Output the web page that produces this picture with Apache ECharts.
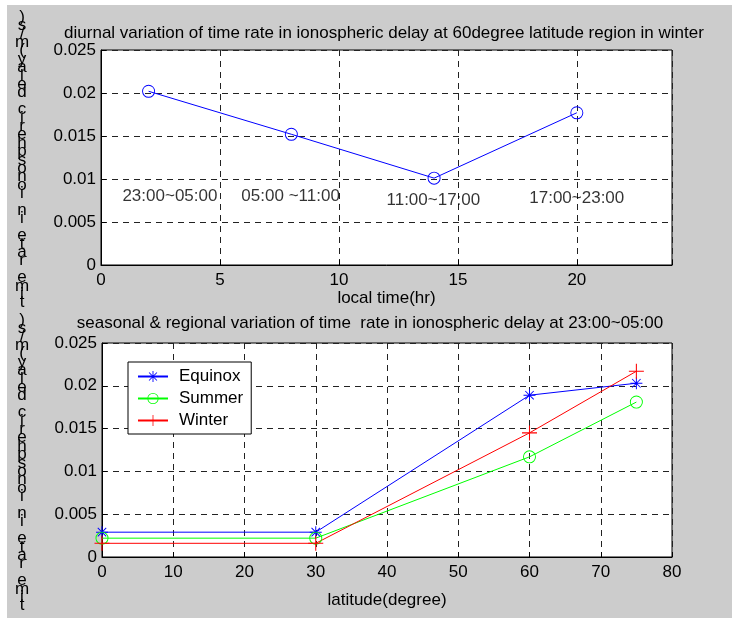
<!DOCTYPE html>
<html>
<head>
<meta charset="utf-8">
<script src="https://cdn.jsdelivr.net/npm/echarts@6/dist/echarts.min.js"></script>
<style>
html,body{margin:0;padding:0;background:#fff;}
#c{width:732px;height:618px;background:linear-gradient(#cccccc,#cccccc) 7px 5px / 725px 613px no-repeat, #ffffff;}
</style>
</head>
<body>
<div id="c"></div>
<script>
// ---- data ----
const topTitle = 'diurnal variation of time rate in ionospheric delay at 60degree latitude region in winter';
const bottomTitle = 'seasonal & regional variation of time  rate in ionospheric delay at 23:00~05:00';
const yLabelText = 'time rate in ionospheric delay(m/s)';
const topXName = 'local time(hr)';
const bottomXName = 'latitude(degree)';

const hours = [2, 8, 14, 20];
const winter60 = [0.0202, 0.0152, 0.0101, 0.0177];

const annoX = [0.9, 5.9, 12, 18];
const annoY = [0.0080, 0.0080, 0.0075, 0.0077];
const annoText = ['23:00~05:00', '05:00 ~11:00', '11:00~17:00', '17:00~23:00'];

const latitudes = [0, 30, 60, 75];
const equinox = [0.0029, 0.0029, 0.0189, 0.0203];
const summer = [0.0022, 0.0022, 0.0117, 0.0181];
const winter = [0.0016, 0.0016, 0.0145, 0.0217];

const FONT = '"Liberation Sans", Arial, sans-serif';
const FS = 17;
const starPath = 'path://M-0.8,-10L0.8,-10L0.8,10L-0.8,10Z M-10,-0.8L10,-0.8L10,0.8L-10,0.8Z M-7.6,-6.5L-6.5,-7.6L7.6,6.5L6.5,7.6Z M6.5,-7.6L7.6,-6.5L-6.5,7.6L-7.6,6.5Z';
const plusPath = 'path://M-0.7,-10L0.7,-10L0.7,10L-0.7,10Z M-10,-0.7L10,-0.7L10,0.7L-10,0.7Z';
const ringPath = 'path://M10,0A10,10,0,1,1,-10,0A10,10,0,1,1,10,0Z M8.6,0A8.6,8.6,0,1,0,-8.6,0A8.6,8.6,0,1,0,8.6,0Z';

const zip = (xs, ys) => xs.map((x, i) => [x, ys[i]]);
const reversedStack = yLabelText.split('').reverse().join('\n');

const gridLine = {show: true, lineStyle: {color: '#222', type: [6, 5], width: 1}};
const axisBase = {
  type: 'value',
  axisLine: {show: true, onZero: false, lineStyle: {color: '#000', width: 1}},
  axisTick: {show: true, inside: true, length: 5, lineStyle: {color: '#000'}},
  splitLine: gridLine
};
const labelStyle = {color: '#000', fontSize: FS, fontFamily: FONT};

const chart = echarts.init(document.getElementById('c'), null, {renderer: 'canvas'});
chart.setOption({
  backgroundColor: 'transparent',
  animation: false,
  textStyle: {fontFamily: FONT},
  grid: [
    {left: 101, top: 50, width: 571, height: 215, show: true, backgroundColor: '#fff', borderColor: '#000', borderWidth: 1},
    {left: 102, top: 343, width: 570, height: 214, show: true, backgroundColor: '#fff', borderColor: '#000', borderWidth: 1}
  ],
  xAxis: [
    Object.assign({}, axisBase, {gridIndex: 0, min: 0, max: 24, interval: 5,
      axisLabel: Object.assign({margin: 7, formatter: v => (v % 5 === 0 ? String(v) : '')}, labelStyle),
      name: topXName, nameLocation: 'middle', nameGap: 25,
      nameTextStyle: labelStyle}),
    Object.assign({}, axisBase, {gridIndex: 1, min: 0, max: 80, interval: 10,
      axisLabel: Object.assign({margin: 7}, labelStyle),
      name: bottomXName, nameLocation: 'middle', nameGap: 35,
      nameTextStyle: labelStyle})
  ],
  yAxis: [
    Object.assign({}, axisBase, {gridIndex: 0, min: 0, max: 0.025, interval: 0.005,
      axisLabel: Object.assign({margin: 5, formatter: v => String(+v.toFixed(3))}, labelStyle)}),
    Object.assign({}, axisBase, {gridIndex: 1, min: 0, max: 0.025, interval: 0.005,
      axisLabel: Object.assign({margin: 5, formatter: v => String(+v.toFixed(3))}, labelStyle)})
  ],
  legend: {
    data: ['Equinox', 'Summer', 'Winter'],
    orient: 'vertical',
    left: 128, top: 362,
    padding: [6, 8, 5, 9],
    itemWidth: 30, itemHeight: 14, itemGap: 5,
    backgroundColor: '#fff', borderColor: '#000', borderWidth: 1,
    textStyle: {color: '#000', fontSize: FS, fontFamily: FONT, padding: [0, 0, 0, 6]}
  },
  series: [
    {type: 'line', xAxisIndex: 0, yAxisIndex: 0, data: zip(hours, winter60),
      symbol: ringPath, symbolSize: 13, clip: false,
      lineStyle: {color: '#0000ff', width: 1}, itemStyle: {color: '#0000ff'}},
    {type: 'scatter', xAxisIndex: 0, yAxisIndex: 0, symbolSize: 0, silent: true,
      data: annoX.map((x, i) => [x, annoY[i], annoText[i]]),
      label: {show: true, position: 'right', distance: 0, color: '#000', fontSize: FS, fontFamily: FONT,
        formatter: p => p.data[2]}},
    {name: 'Equinox', type: 'line', xAxisIndex: 1, yAxisIndex: 1, data: zip(latitudes, equinox),
      symbol: starPath, symbolSize: 12, clip: false,
      lineStyle: {color: '#0000ff', width: 1}, itemStyle: {color: '#0000ff'}},
    {name: 'Summer', type: 'line', xAxisIndex: 1, yAxisIndex: 1, data: zip(latitudes, summer),
      symbol: ringPath, symbolSize: 13, clip: false,
      lineStyle: {color: '#00ff00', width: 1}, itemStyle: {color: '#00ff00'}},
    {name: 'Winter', type: 'line', xAxisIndex: 1, yAxisIndex: 1, data: zip(latitudes, winter),
      symbol: plusPath, symbolSize: 15, clip: false,
      lineStyle: {color: '#ff0000', width: 1}, itemStyle: {color: '#ff0000'}}
  ],
  graphic: [
    {type: 'text', x: 384, y: 33, style: {text: topTitle, align: 'center', verticalAlign: 'middle', fill: '#000', font: FS + 'px ' + FONT}},
    {type: 'text', x: 370, y: 323, style: {text: bottomTitle, align: 'center', verticalAlign: 'middle', fill: '#000', font: FS + 'px ' + FONT}},
    {type: 'text', x: 22, y: 160, style: {text: reversedStack, align: 'center', verticalAlign: 'middle', fill: '#000', font: FS + 'px ' + FONT, lineHeight: 8.4}},
    {type: 'text', x: 22, y: 463, style: {text: reversedStack, align: 'center', verticalAlign: 'middle', fill: '#000', font: FS + 'px ' + FONT, lineHeight: 8.4}}
  ]
});
</script>
</body>
</html>
